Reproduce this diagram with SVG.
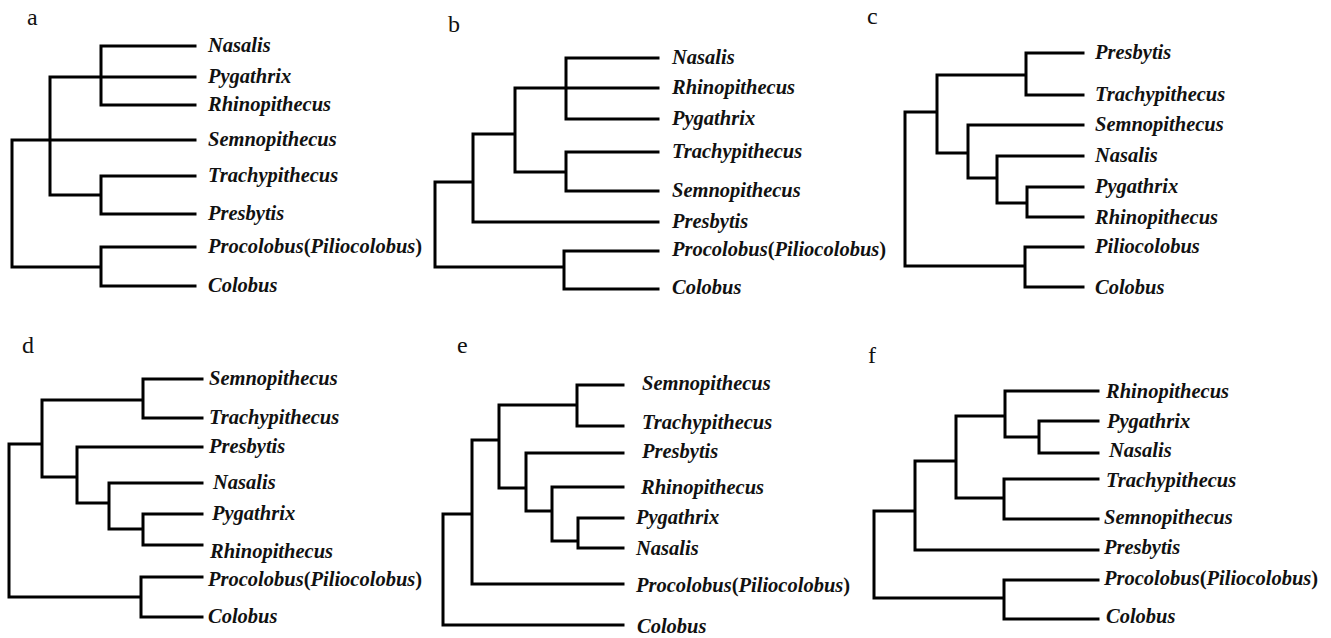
<svg xmlns="http://www.w3.org/2000/svg" width="1331" height="638" viewBox="0 0 1331 638">
<style>
.br{fill:none;stroke:#000;stroke-width:3;stroke-linecap:square;stroke-linejoin:miter}
.lf{font-family:"Liberation Serif","Times New Roman",serif;font-style:italic;font-weight:bold;font-size:20.5px;fill:#111}
.up{font-style:normal}
.pl{font-family:"Liberation Serif","Times New Roman",serif;font-size:24px;fill:#111}
</style>
<rect width="1331" height="638" fill="#fff"/>
<g id="connectors">
<path id="tree-a" class="br" d="M101,46H195M50,77H195M101,105H195M101,46V105M12,140H195M50,77V195M50,195H101M101,176V214M101,176H195M101,214H195M12,140V267M12,267H101M101,247V286M101,247H195M101,286H195"/>
<path id="tree-b" class="br" d="M566,58H658M515,88H658M566,119H658M566,58V119M566,152H658M566,191H658M566,152V191M515,172H566M515,88V172M473,134H515M473,134V222M473,222H658M435,182H473M435,182V267M435,267H564M564,251V289M564,251H658M564,289H658"/>
<path id="tree-c" class="br" d="M1026,53H1083M1026,95H1083M1026,53V95M937,75H1026M937,75V153M937,153H968M968,125H1083M968,125V178M968,178H997M997,156H1083M997,156V203M997,203H1027M1027,187V217M1027,187H1083M1027,217H1083M905,112H937M905,112V266M905,266H1025M1025,247V287M1025,247H1083M1025,287H1083"/>
<path id="tree-d" class="br" d="M143,379H202M143,418H202M143,379V418M42,400H143M42,400V477M42,477H77M77,447H202M77,447V503M77,503H109M109,483H202M109,483V529M109,529H143M143,514V545M143,514H202M143,545H202M9,444H42M9,444V597M9,597H141M141,577V617M141,577H202M141,617H202"/>
<path id="tree-e" class="br" d="M577,385H623M577,426H623M577,385V426M499,405H577M499,405V488M499,488H526M526,453H623M526,453V511M526,511H552M552,487H623M552,487V541M552,541H578M578,518V548M578,518H623M578,548H623M472,440H499M472,440V584M472,584H623M443,514H472M443,514V625M443,625H623"/>
<path id="tree-f" class="br" d="M1005,391H1098M1005,391V437M1005,437H1039M1039,421V453M1039,421H1098M1039,453H1098M956,416H1005M956,416V498M956,498H1004M1004,479V519M1004,479H1098M1004,519H1098M915,461H956M915,461V550M915,550H1098M874,511H915M874,511V598M874,598H1004M1004,580V619M1004,580H1098M1004,619H1098"/>
</g>
<g id="panel-labels">
<text class="pl" x="27" y="25">a</text>
<text class="pl" x="448" y="32">b</text>
<text class="pl" x="867" y="24">c</text>
<text class="pl" x="22" y="353">d</text>
<text class="pl" x="457" y="353">e</text>
<text class="pl" x="868" y="363">f</text>
</g>
<g id="panel-a">
<g id="a-nasalis"><text class="lf" x="208" y="52">Nasalis</text></g>
<g id="a-pygathrix"><text class="lf" x="208" y="83">Pygathrix</text></g>
<g id="a-rhinopithecus"><text class="lf" x="208" y="111">Rhinopithecus</text></g>
<g id="a-semnopithecus"><text class="lf" x="208" y="146">Semnopithecus</text></g>
<g id="a-trachypithecus"><text class="lf" x="208" y="182">Trachypithecus</text></g>
<g id="a-presbytis"><text class="lf" x="208" y="220">Presbytis</text></g>
<g id="a-procolobus"><text class="lf" x="208" y="253">Procolobus<tspan class="up">(</tspan>Piliocolobus<tspan class="up">)</tspan></text></g>
<g id="a-colobus"><text class="lf" x="208" y="292">Colobus</text></g>
</g>
<g id="panel-b">
<g id="b-nasalis"><text class="lf" x="672" y="64">Nasalis</text></g>
<g id="b-rhinopithecus"><text class="lf" x="672" y="94">Rhinopithecus</text></g>
<g id="b-pygathrix"><text class="lf" x="672" y="125">Pygathrix</text></g>
<g id="b-trachypithecus"><text class="lf" x="672" y="158">Trachypithecus</text></g>
<g id="b-semnopithecus"><text class="lf" x="672" y="197">Semnopithecus</text></g>
<g id="b-presbytis"><text class="lf" x="672" y="228">Presbytis</text></g>
<g id="b-procolobus"><text class="lf" x="672" y="256">Procolobus<tspan class="up">(</tspan>Piliocolobus<tspan class="up">)</tspan></text></g>
<g id="b-colobus"><text class="lf" x="672" y="294">Colobus</text></g>
</g>
<g id="panel-c">
<g id="c-presbytis"><text class="lf" x="1095" y="59">Presbytis</text></g>
<g id="c-trachypithecus"><text class="lf" x="1095" y="101">Trachypithecus</text></g>
<g id="c-semnopithecus"><text class="lf" x="1095" y="131">Semnopithecus</text></g>
<g id="c-nasalis"><text class="lf" x="1095" y="162">Nasalis</text></g>
<g id="c-pygathrix"><text class="lf" x="1095" y="193">Pygathrix</text></g>
<g id="c-rhinopithecus"><text class="lf" x="1095" y="224">Rhinopithecus</text></g>
<g id="c-piliocolobus"><text class="lf" x="1095" y="253">Piliocolobus</text></g>
<g id="c-colobus"><text class="lf" x="1095" y="294">Colobus</text></g>
</g>
<g id="panel-d">
<g id="d-semnopithecus"><text class="lf" x="209" y="385">Semnopithecus</text></g>
<g id="d-trachypithecus"><text class="lf" x="209" y="424">Trachypithecus</text></g>
<g id="d-presbytis"><text class="lf" x="209" y="453">Presbytis</text></g>
<g id="d-nasalis"><text class="lf" x="213" y="489">Nasalis</text></g>
<g id="d-pygathrix"><text class="lf" x="212" y="520">Pygathrix</text></g>
<g id="d-rhinopithecus"><text class="lf" x="210" y="558">Rhinopithecus</text></g>
<g id="d-procolobus"><text class="lf" x="208" y="586">Procolobus<tspan class="up">(</tspan>Piliocolobus<tspan class="up">)</tspan></text></g>
<g id="d-colobus"><text class="lf" x="208" y="623">Colobus</text></g>
</g>
<g id="panel-e">
<g id="e-semnopithecus"><text class="lf" x="642" y="390">Semnopithecus</text></g>
<g id="e-trachypithecus"><text class="lf" x="642" y="429">Trachypithecus</text></g>
<g id="e-presbytis"><text class="lf" x="642" y="458">Presbytis</text></g>
<g id="e-rhinopithecus"><text class="lf" x="641" y="494">Rhinopithecus</text></g>
<g id="e-pygathrix"><text class="lf" x="636" y="524">Pygathrix</text></g>
<g id="e-nasalis"><text class="lf" x="636" y="555">Nasalis</text></g>
<g id="e-procolobus"><text class="lf" x="636" y="592">Procolobus<tspan class="up">(</tspan>Piliocolobus<tspan class="up">)</tspan></text></g>
<g id="e-colobus"><text class="lf" x="637" y="633">Colobus</text></g>
</g>
<g id="panel-f">
<g id="f-rhinopithecus"><text class="lf" x="1106" y="398">Rhinopithecus</text></g>
<g id="f-pygathrix"><text class="lf" x="1107" y="428">Pygathrix</text></g>
<g id="f-nasalis"><text class="lf" x="1109" y="457">Nasalis</text></g>
<g id="f-trachypithecus"><text class="lf" x="1106" y="487">Trachypithecus</text></g>
<g id="f-semnopithecus"><text class="lf" x="1104" y="524">Semnopithecus</text></g>
<g id="f-presbytis"><text class="lf" x="1104" y="554">Presbytis</text></g>
<g id="f-procolobus"><text class="lf" x="1104" y="585">Procolobus<tspan class="up">(</tspan>Piliocolobus<tspan class="up">)</tspan></text></g>
<g id="f-colobus"><text class="lf" x="1106" y="623">Colobus</text></g>
</g>
</svg>
